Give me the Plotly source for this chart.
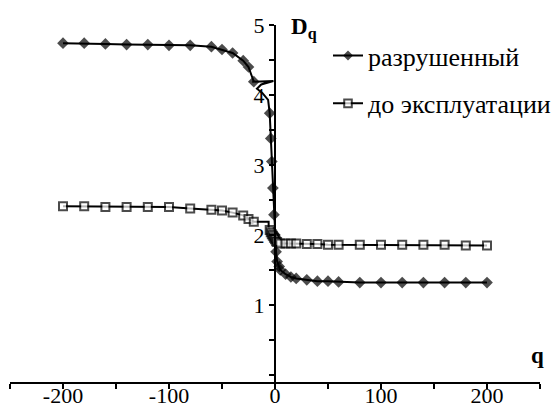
import plotly.graph_objects as go

# ---------------- data ----------------
# "разрушенный" (destroyed) – measured points (diamonds)
q_destroyed = [-200, -180, -160, -140, -120, -100, -80, -60, -50, -40, -30, -25, -20,
               -5, -4, -3, -2, -1, 0, 1, 2, 4, 5, 10, 15, 20, 30, 40, 50, 60,
               80, 100, 120, 140, 160, 180, 200]
d_destroyed = [4.74, 4.74, 4.73, 4.72, 4.72, 4.71, 4.71, 4.69, 4.65, 4.60, 4.49, 4.40, 4.19,
               3.74, 3.38, 3.05, 2.67, 2.29, 2.00, 1.76, 1.62, 1.55, 1.50, 1.44, 1.40, 1.38, 1.36, 1.34, 1.34, 1.33,
               1.32, 1.32, 1.32, 1.32, 1.32, 1.32, 1.32]
# vertices of the looping smoothed curve drawn in the original (no markers)
loop_destroyed_after = -20
loop_destroyed_q = [-21.5, -1.5, -13, -17, -12, -6.5]
loop_destroyed_d = [4.19, 4.20, 4.15, 4.09, 4.03, 3.93]

# "до эксплуатации" (before operation) – measured points (squares)
q_before = [-200, -180, -160, -140, -120, -100, -80, -60, -50, -40, -30, -25, -20,
            -5, -4, -3, -2, -1, 0, 1, 2, 5, 10, 15, 20, 30, 40, 50, 60,
            80, 100, 120, 140, 160, 180, 200]
d_before = [2.41, 2.41, 2.40, 2.40, 2.40, 2.40, 2.38, 2.36, 2.35, 2.32, 2.28, 2.23, 2.19,
            2.07, 2.04, 2.01, 1.99, 1.96, 1.94, 1.91, 1.90, 1.88, 1.88, 1.88, 1.88, 1.87, 1.87, 1.86, 1.86,
            1.86, 1.86, 1.86, 1.86, 1.86, 1.85, 1.85]
loop_before_after = -20
loop_before_q = [-6, -6]
loop_before_d = [2.19, 2.10]

x_tickvals = [-200, -100, 0, 100, 200]
y_tickvals = [1, 2, 3, 4, 5]

series_names = ["разрушенный", "до эксплуатации"]


def build_path(qs, ds, lq, ld, after, msize):
    xs, ys, sizes = [], [], []
    for q, d in zip(qs, ds):
        xs.append(q); ys.append(d); sizes.append(msize)
        if q == after:
            for a, b in zip(lq, ld):
                xs.append(a); ys.append(b); sizes.append(0)
    return xs, ys, sizes


FONT = "Liberation Serif"

fig = go.Figure()

x1, y1, s1 = build_path(q_destroyed, d_destroyed, loop_destroyed_q, loop_destroyed_d,
                        loop_destroyed_after, 9)
fig.add_trace(go.Scatter(
    x=x1, y=y1, mode="lines+markers", name=series_names[0], legendgroup="a",
    line=dict(color="black", width=2),
    marker=dict(symbol="diamond", size=s1, color="black", line=dict(width=0)),
))

x2, y2, s2 = build_path(q_before, d_before, loop_before_q, loop_before_d,
                        loop_before_after, 8)
fig.add_trace(go.Scatter(
    x=x2, y=y2, mode="lines+markers", name=series_names[1], legendgroup="b",
    line=dict(color="black", width=2),
    marker=dict(symbol="square", size=s2, color="white", line=dict(color="black", width=2)),
))

fig.update_layout(
    width=559, height=412,
    margin=dict(l=2, r=27, t=17, b=38, autoexpand=False),
    paper_bgcolor="white", plot_bgcolor="white",
    font=dict(family=FONT, size=21, color="black"),
    showlegend=True,
    legend=dict(x=0.60, y=0.98, xanchor="left", yanchor="top",
                bgcolor="rgba(0,0,0,0)", font=dict(family=FONT, size=26),
                tracegroupgap=11, itemwidth=30),
    xaxis=dict(
        range=[-250, 250], showgrid=False, zeroline=False, automargin=False,
        showline=True, linecolor="black", linewidth=2,
        ticks="outside", ticklen=5, tickwidth=2, tickcolor="black",
        tickvals=x_tickvals, ticktext=[str(v) for v in x_tickvals],
        ticklabelstandoff=-12,
        minor=dict(dtick=50, tick0=-250, ticks="outside", ticklen=5, tickwidth=2, tickcolor="black"),
        tickfont=dict(family=FONT, size=22),
    ),
    yaxis=dict(
        range=[-0.1, 5], showgrid=False, zeroline=False, automargin=False,
        anchor="free", position=0.5,
        showline=True, linecolor="black", linewidth=2,
        ticks="outside", ticklen=5, tickwidth=2, tickcolor="black",
        tickvals=y_tickvals, ticktext=[str(v) for v in y_tickvals],
        minor=dict(dtick=0.5, tick0=0, ticks="outside", ticklen=5, tickwidth=2, tickcolor="black"),
        tickfont=dict(family=FONT, size=22),
    ),
    annotations=[
        dict(text="<b>D<sub>q</sub></b>", xref="paper", yref="paper", x=0.527, y=0.99,
             xanchor="left", yanchor="middle", showarrow=False,
             font=dict(family=FONT, size=23)),
        dict(text="<b>q</b>", xref="paper", yref="paper", x=0.995, y=0.075,
             xanchor="center", yanchor="middle", showarrow=False,
             font=dict(family=FONT, size=23)),
    ],
)

fig.write_html("out.html")
